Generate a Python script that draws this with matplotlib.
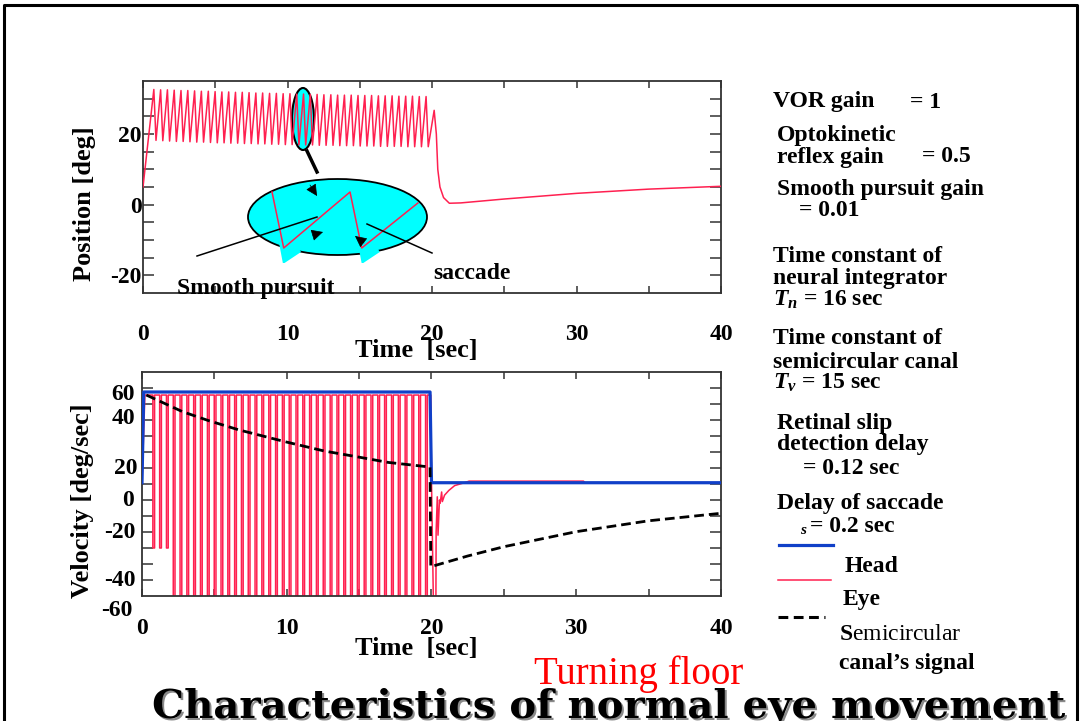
import matplotlib
matplotlib.use('Agg')
import matplotlib.pyplot as plt
import numpy as np
from matplotlib.patches import Ellipse, Polygon
from matplotlib.lines import Line2D

plt.rcParams['font.family'] = ['Liberation Serif', 'DejaVu Serif']
plt.rcParams['font.weight'] = 'bold'
plt.rcParams['axes.unicode_minus'] = False
plt.rcParams['mathtext.fontset'] = 'custom'
plt.rcParams['mathtext.it'] = 'Liberation Serif:italic:bold'
plt.rcParams['mathtext.rm'] = 'Liberation Serif:bold'
plt.rcParams['mathtext.bf'] = 'Liberation Serif:bold'

# --- data ---
# saccade onsets [sec]
sacc_t = [0.75, 1.22, 1.69, 2.16, 2.63, 3.10, 3.57, 4.04, 4.52, 4.99,
          5.46, 5.93, 6.40, 6.87, 7.34, 7.81, 8.28, 8.76, 9.23, 9.70,
          10.17, 10.64, 11.11, 11.58, 12.05, 12.52, 13.00, 13.47, 13.94, 14.41,
          14.88, 15.35, 15.82, 16.29, 16.76, 17.24, 17.71, 18.18, 18.65, 19.12,
          19.59]
sacc_dur = 0.15
# eye position before / after each saccade [deg]
pos_peak = [32.6, 32.5, 32.5, 32.4, 32.3, 32.3, 32.2, 32.1, 32.1, 32.0,
            31.9, 31.9, 31.8, 31.8, 31.7, 31.6, 31.6, 31.5, 31.5, 31.4,
            31.4, 31.3, 31.3, 31.2, 31.2, 31.1, 31.1, 31.0, 31.0, 31.0,
            30.9, 30.9, 30.9, 30.8, 30.8, 30.8, 30.7, 30.7, 30.7, 30.6, 30.6]
pos_trough = [18.2, 18.1, 18.0, 17.9, 17.9, 17.8, 17.7, 17.7, 17.6, 17.5,
              17.5, 17.4, 17.4, 17.3, 17.3, 17.2, 17.2, 17.1, 17.1, 17.0,
              17.0, 16.9, 16.9, 16.9, 16.8, 16.8, 16.8, 16.7, 16.7, 16.7,
              16.6, 16.6, 16.6, 16.5, 16.5, 16.5, 16.5, 16.4, 16.4, 16.4, 16.4]
pos_start_t = [0.0]
pos_start = [5.0]
pos_tail_t = [20.15, 20.3, 20.4, 20.55, 20.8, 21.2, 22.0, 25.0, 30.0, 35.0, 40.0]
pos_tail = [26.7, 20.0, 10.0, 5.0, 2.0, 0.4, 0.5, 1.6, 3.2, 4.4, 5.2]

# eye velocity [deg/sec]
vel_plateau = 65.6
spike_w = 0.12
spike_depth = [-30, -30, -30] + [-75] * 38
vel_start_t = [0.0, 0.2]
vel_start = [10.6, 65.6]
vel_tail_t = [19.95, 20.0, 20.15, 20.3, 20.32, 20.4, 20.45, 20.55, 20.6, 20.7,
              20.75, 20.9, 21.2, 21.6, 22.2, 22.6, 30.5, 30.6, 40.0]
vel_tail = [65.6, 12.0, -75, -75, -20, 2, -22, 0, -2, 5,
            -1, 3, 6, 9, 10.6, 11.8, 11.8, 10.8, 10.8]

# head velocity
head_t = [0.0, 0.12, 19.9, 20.0, 40.0]
head_v = [10.8, 67.5, 67.5, 10.8, 10.8]

# semicircular canal signal
canal_t = [0.3, 2.8, 4.6, 6.7, 9.9, 12.6, 14.8, 17.0, 19.9,
           19.95, 22.5, 25.0, 30.0, 35.0, 40.0]
canal_v = [65.6, 55.2, 49.6, 43.8, 36.4, 30.6, 27.1, 23.5, 20.6,
           -41.7, -35.0, -29.2, -19.8, -13.0, -8.3]

# magnified piece of the eye position (inset)
inset_t = [0.0, 0.15, 1.0, 1.15, 1.87]
inset_pos = [31.0, 17.0, 31.0, 17.0, 28.25]

RED = '#ff2050'
BLUE = '#1040c8'
CYAN = '#00ffff'

W, H = 1081, 721


def fx(x):
    return x / W


def fy(y):
    return 1 - y / H


# build the polylines
st = np.array(sacc_t)
p_t = np.column_stack([st, st + sacc_dur]).ravel()
p_v = np.column_stack([pos_peak, pos_trough]).ravel()
pos_t = np.concatenate([pos_start_t, p_t, pos_tail_t])
pos_v = np.concatenate([pos_start, p_v, pos_tail])

sd = np.array(spike_depth, dtype=float)
v_t = np.column_stack([st, st, st + spike_w, st + spike_w]).ravel()
v_v = np.column_stack([np.full_like(sd, vel_plateau), sd, sd,
                       np.full_like(sd, vel_plateau)]).ravel()
eye_t = np.concatenate([vel_start_t, v_t, vel_tail_t])
eye_v = np.concatenate([vel_start, v_v, vel_tail])

fig = plt.figure(figsize=(10.81, 7.21), dpi=100)

# --- position plot ---
ax1 = fig.add_axes([fx(143), fy(293), (721 - 143) / W, (293 - 81) / H])
ax1.plot(pos_t, pos_v, color=RED, lw=1.1, zorder=3)
ax1.set_xlim(0, 40)
ax1.set_ylim(-25, 35)
ax1.set_xticks([0, 10, 20, 30, 40])
ax1.set_xticks([5, 15, 25, 35], minor=True)
ax1.set_yticks([-20, 0, 20])
ax1.set_yticks([-15, -10, -5, 5, 10, 15, 25, 30], minor=True)
ax1.add_patch(Ellipse((fx(303), fy(119)), 22 / W, 62 / H, transform=fig.transFigure,
                      facecolor=CYAN, edgecolor='black', lw=1.5, zorder=1))

# --- velocity plot ---
ax2 = fig.add_axes([fx(142), fy(596), (721 - 142) / W, (596 - 372) / H])
ax2.plot(eye_t, eye_v, color=RED, lw=1.1, zorder=2)
ax2.plot(head_t, head_v, color=BLUE, lw=2.3, zorder=3)
ax2.plot(canal_t, canal_v, color='black', lw=2.0, dashes=(3.5, 1.8), zorder=4)
ax2.set_xlim(0, 40)
ax2.set_ylim(-60, 80)
ax2.set_xticks([0, 10, 20, 30, 40])
ax2.set_xticks([5, 15, 25, 35], minor=True)
ax2.set_yticks(range(-50, 80, 10))
ax2.tick_params(axis='y', labelleft=False)

for ax in (ax1, ax2):
    for s in ax.spines.values():
        s.set_color('#333333')
        s.set_linewidth(1.3)
    ax.tick_params(which='both', direction='in', top=True, right=True,
                   color='#333333', width=1.1, labelsize=17)
    ax.tick_params(axis='x', which='both', length=5)
    ax.tick_params(axis='y', which='both', length=8, pad=1)
ax1.tick_params(axis='x', pad=22)
ax2.tick_params(axis='x', pad=16)

# velocity tick labels as placed on the slide
vel_labels = ['60', '40', '20', '0', '-20', '-40', '-60']
vel_label_xy = [(123, 394), (123, 419), (126, 468), (128, 500), (120, 532), (120, 581), (117, 611)]
for lab, (x, y) in zip(vel_labels, vel_label_xy):
    fig.text(fx(x), fy(y), lab, ha='center', va='center', size=17)

# axis labels
fig.text(fx(84), fy(204), 'Position [deg]', rotation=90, ha='center', va='center', size=19)
fig.text(fx(83), fy(501), 'Velocity [deg/sec]', rotation=90, ha='center', va='center', size=19)
fig.text(fx(416), fy(351), 'Time  [sec]', ha='center', va='center', size=19)
fig.text(fx(416), fy(648), 'Time  [sec]', ha='center', va='center', size=19)

# --- magnified inset ---
fig.patches.append(Ellipse((fx(337.5), fy(217)), 179 / W, 76 / H, transform=fig.transFigure,
                           facecolor=CYAN, edgecolor='black', lw=1.3, zorder=5))
ax3 = fig.add_axes([fx(248), fy(263), 179 / W, 84 / H], zorder=6)
ax3.set_xlim(-0.308, 1.987)
ax3.set_ylim(13.25, 34.25)
ax3.axis('off')
ax3.patch.set_alpha(0)
foot = np.array([[0.09, 18.25], [0.141, 13.0], [0.372, 16.0], [0.308, 18.0]])
ax3.add_patch(Polygon(foot, closed=True, facecolor=CYAN, edgecolor='none'))
ax3.add_patch(Polygon(foot + [1.01, 0], closed=True, facecolor=CYAN, edgecolor='none'))
ax3.plot(inset_t, inset_pos, color=RED, lw=1.1)

# pointer lines
pointer_lines = [[(197, 256), (317, 217)], [(367, 224), (432, 253)]]
for seg in pointer_lines:
    xs, ys = zip(*seg)
    fig.add_artist(Line2D([fx(x) for x in xs], [fy(y) for y in ys], color='black', lw=1.1, zorder=7))
fig.add_artist(Line2D([fx(307), fx(317)], [fy(151), fy(172)], color='black', lw=2.5, zorder=7))

arrow_heads = [((317, 196), (310, 185)), ((323, 232), (313, 235)), ((355, 236), (364, 243))]
for tip, tail in arrow_heads:
    fig.add_artist(plt.annotate('', xy=(fx(tip[0]), fy(tip[1])), xycoords='figure fraction',
                                xytext=(fx(tail[0]), fy(tail[1])), textcoords='figure fraction',
                                arrowprops=dict(arrowstyle='-|>', mutation_scale=18,
                                                color='black', lw=0.5, shrinkA=0, shrinkB=0)))

fig.text(fx(177), fy(288), 'Smooth pursuit', ha='left', va='center', size=17, zorder=8)
fig.text(fx(433), fy(273), 'saccade', ha='left', va='center', size=17, zorder=8)

# --- right column ---
right_text = [
    (773, 102, 'VOR gain'), (910, 102, '= 1'),
    (777, 135, 'Optokinetic'), (777, 157, 'reflex gain'), (922, 157, '= 0.5'),
    (777, 189, 'Smooth pursuit gain'), (799, 211, '= 0.01'),
    (773, 256, 'Time constant of'), (773, 278, 'neural integrator'),
    (773, 300, '$T_n$ = 16 sec'),
    (773, 339, 'Time constant of'), (773, 362, 'semicircular canal'),
    (773, 383, '$T_v$ = 15 sec'),
    (777, 423, 'Retinal slip'), (777, 445, 'detection delay'), (803, 468, '= 0.12 sec'),
    (777, 503, 'Delay of saccade'), (810, 526, '= 0.2 sec'),
    (845, 566, 'Head'), (843, 600, 'Eye'),
    (839, 664, 'canal\u2019s signal'),
]
for x, y, t in right_text:
    fig.text(fx(x), fy(y), t, ha='left', va='center', size=17)
fig.text(fx(800), fy(531), 's', ha='left', va='center', size=11, style='italic')
fig.text(fx(839), fy(635), r'$\mathbf{S}$emicircular', ha='left', va='center',
         size=17, weight='normal')

# legend lines
fig.add_artist(Line2D([fx(779), fx(833)], [fy(545), fy(545)], color=BLUE, lw=2.3))
fig.add_artist(Line2D([fx(778), fx(831)], [fy(580), fy(580)], color=RED, lw=1.1))
fig.add_artist(Line2D([fx(778), fx(825)], [fy(617), fy(617)], color='black', lw=2.2,
                      dashes=(3.2, 1.8)))

# captions
fig.text(fx(639), fy(684), 'Turning floor', ha='center', va='baseline', size=28,
         weight='normal', color='#ff0000')
title = 'Characteristics of normal eye movement'
fig.text(fx(611), fy(719), title, ha='center', va='baseline', size=29,
         family='DejaVu Serif', color='#8a8a8a')
fig.text(fx(609), fy(717), title, ha='center', va='baseline', size=29,
         family='DejaVu Serif', color='black')

# slide frame
frame_x = [4, 4, 1077, 1077]
frame_y = [730, 5, 5, 730]
fig.add_artist(Line2D([fx(x) for x in frame_x], [fy(y) for y in frame_y], color='black', lw=2.2))

fig.savefig('out.png', dpi=100)
